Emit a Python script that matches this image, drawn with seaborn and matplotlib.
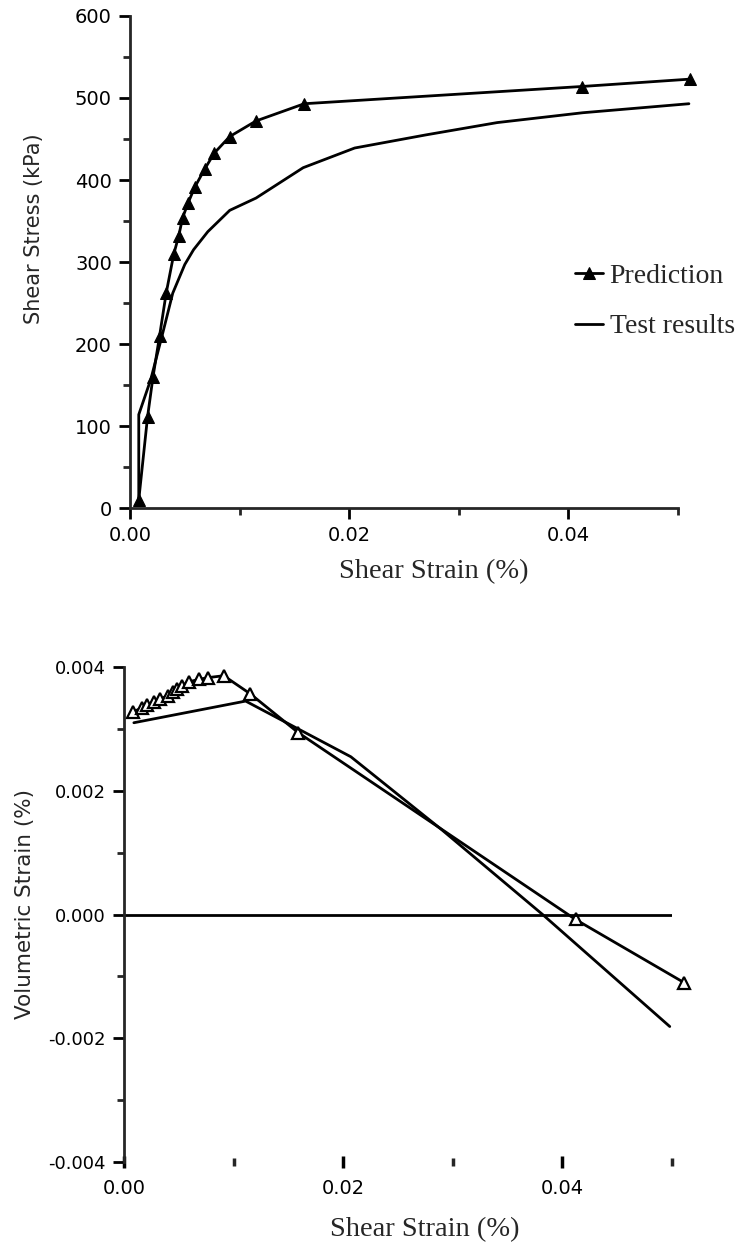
import numpy as np
import pandas as pd
import matplotlib
matplotlib.use("Agg")
import matplotlib.pyplot as plt
from matplotlib.ticker import MultipleLocator, FixedLocator
import seaborn as sns

# ---- data ----
pred_strain = [0.0008, 0.0016, 0.0021, 0.0027, 0.0033, 0.0040, 0.00445, 0.0048, 0.0053,
               0.0059, 0.0068, 0.0077, 0.0091, 0.0115, 0.0159, 0.0412, 0.0511]
pred_stress = [10, 111, 160, 210, 262, 310, 332, 354, 372, 391, 413, 433, 453, 472, 493, 514, 523]
pred_vol = [0.00327, 0.00334, 0.00338, 0.00343, 0.00348, 0.00354, 0.00360, 0.00364, 0.00370,
            0.00376, 0.00380, 0.00383, 0.00386, 0.00357, 0.00294, -0.00008, -0.00110]

test_strain_top = [0.0008, 0.0008, 0.0019, 0.0030, 0.0039, 0.0050, 0.0058, 0.0071, 0.0091,
                   0.0115, 0.0158, 0.0205, 0.0270, 0.0335, 0.0413, 0.0510]
test_stress = [10, 114, 157, 214, 262, 297, 315, 337, 363, 378, 415, 439, 455, 470, 482, 493]

test_strain_bot = [0.0009, 0.0111, 0.0207, 0.0290, 0.0382, 0.0498]
test_vol = [0.00310, 0.00345, 0.00255, 0.00137, 0.0, -0.00181]

labels = ["Prediction", "Test results"]
xlabel = "Shear Strain (%)"
ylabel_top = "Shear Stress (kPa)"
ylabel_bot = "Volumetric Strain (%)"
xtick_vals = [0.0, 0.02, 0.04]
xtick_labels = ["0.00", "0.02", "0.04"]
ytick_vals_bot = [-0.004, -0.002, 0.0, 0.002, 0.004]
ytick_labels_bot = ["-0.004", "-0.002", "0.000", "0.002", "0.004"]

sns.set_style("ticks")
plt.rcParams["font.family"] = ["DejaVu Sans"]
plt.rcParams["axes.unicode_minus"] = False

fig = plt.figure(figsize=(7.42, 12.48), dpi=100)
ax1 = fig.add_axes([0.1752, 0.5929, 0.7385, 0.3943])
ax2 = fig.add_axes([0.1671, 0.0689, 0.7385, 0.3966])

LW = 2.0
# ---------- top panel ----------
sns.lineplot(x=pred_strain, y=pred_stress, ax=ax1, color="black", lw=LW, marker="^",
             markersize=9, markeredgecolor="black", markerfacecolor="black",
             sort=False, estimator=None, label=labels[0], clip_on=False)
sns.lineplot(x=test_strain_top, y=test_stress, ax=ax1, color="black", lw=LW,
             sort=False, estimator=None, label=labels[1], clip_on=False)

ax1.set_xlim(0, 0.05)
ax1.set_ylim(0, 600)
ax1.xaxis.set_major_locator(FixedLocator(xtick_vals))
ax1.xaxis.set_minor_locator(FixedLocator([0.01, 0.03, 0.05]))
ax1.set_xticklabels(xtick_labels)
ax1.yaxis.set_major_locator(MultipleLocator(100))
ax1.yaxis.set_minor_locator(MultipleLocator(50))
for s in ["top", "right"]:
    ax1.spines[s].set_visible(False)
for s in ["left", "bottom"]:
    ax1.spines[s].set_linewidth(2.0)
ax1.tick_params(axis="both", which="major", direction="out", length=8, width=2,
                labelsize=14, pad=5, colors="black")
ax1.tick_params(axis="both", which="minor", direction="out", length=5, width=2)
ax1.set_xlabel(xlabel, family="Liberation Serif", fontsize=20.5)
ax1.xaxis.set_label_coords(0.555, -0.104)
ax1.set_ylabel(ylabel_top, fontsize=15)
ax1.yaxis.set_label_coords(-0.157, 0.567)
leg = ax1.legend(loc="upper left", bbox_to_anchor=(0.812, 0.497), frameon=False,
                 prop={"family": "Liberation Serif", "size": 20}, handlelength=1.0,
                 handletextpad=0.25, labelspacing=0.9, borderpad=0, borderaxespad=0)

# ---------- bottom panel ----------
sns.lineplot(x=pred_strain, y=pred_vol, ax=ax2, color="black", lw=LW, marker="^",
             markersize=8.5, markeredgecolor="black", markerfacecolor="white",
             markeredgewidth=1.6, sort=False, estimator=None, clip_on=False)
sns.lineplot(x=test_strain_bot, y=test_vol, ax=ax2, color="black", lw=LW,
             sort=False, estimator=None, clip_on=False)
ax2.axhline(0, color="black", lw=LW)

ax2.set_xlim(0, 0.05)
ax2.set_ylim(-0.004, 0.004)
ax2.xaxis.set_major_locator(FixedLocator(xtick_vals))
ax2.xaxis.set_minor_locator(FixedLocator([0.01, 0.03, 0.05]))
ax2.set_xticklabels(xtick_labels)
ax2.yaxis.set_major_locator(FixedLocator(ytick_vals_bot))
ax2.yaxis.set_minor_locator(MultipleLocator(0.001))
ax2.set_yticklabels(ytick_labels_bot)
for s in ["top", "right", "bottom"]:
    ax2.spines[s].set_visible(False)
ax2.spines["left"].set_linewidth(2.0)
ax2.tick_params(axis="y", which="major", direction="out", length=8, width=2,
                labelsize=13, pad=5, colors="black")
ax2.tick_params(axis="y", which="minor", direction="out", length=5, width=2)
ax2.tick_params(axis="x", which="major", direction="inout", length=9, width=2.5,
                labelsize=14, pad=8, colors="black")
ax2.tick_params(axis="x", which="minor", direction="inout", length=6, width=2.5)
ax2.set_xlabel(xlabel, family="Liberation Serif", fontsize=20.5)
ax2.xaxis.set_label_coords(0.549, -0.111)
ax2.set_ylabel(ylabel_bot, fontsize=15.5)
ax2.yaxis.set_label_coords(-0.163, 0.521)

fig.savefig("out.png", dpi=100, facecolor="white")
